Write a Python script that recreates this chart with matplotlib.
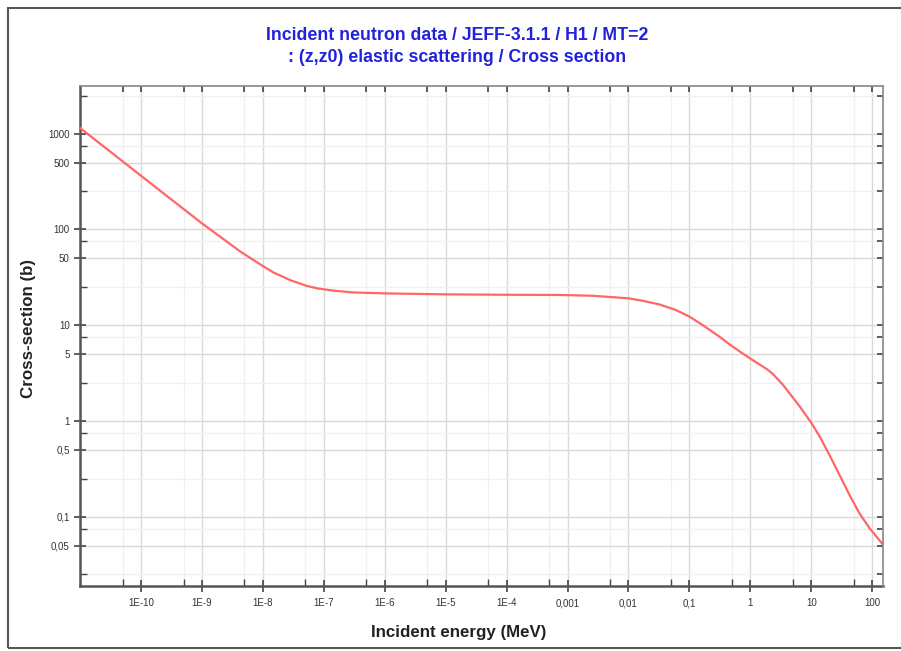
import matplotlib
matplotlib.use("Agg")
import matplotlib.pyplot as plt
from matplotlib.patches import Rectangle
from matplotlib.ticker import FixedLocator, FixedFormatter, NullFormatter

plt.rcParams['font.family'] = ['Liberation Sans', 'DejaVu Sans']

# incident energy (MeV) and elastic cross-section (b)
energy = [1e-11, 1e-10, 1e-9, 4.3e-9, 1e-8, 1.5e-8, 2.8e-8, 5.3e-8, 8e-8,
          1.5e-7, 3e-7, 1e-6, 1e-5, 1e-4, 7.3e-4, 2.6e-3, 0.01, 0.017, 0.032,
          0.06, 0.1, 0.166, 0.31, 0.45, 0.66, 0.96, 1.41, 1.9, 2.33, 3.4,
          4.38, 6.39, 9.96, 13.7, 19.9, 29.1, 42.5, 61.8, 90.3, 150]
xs = [1150, 364, 116, 58.6, 41.5, 35.5, 29.6, 25.7, 24.2,
      22.9, 22.0, 21.5, 21.0, 20.8, 20.7, 20.3, 19.1, 18.0, 16.5,
      14.4, 12.3, 10.0, 7.6, 6.35, 5.35, 4.55, 3.9, 3.45, 3.1, 2.4,
      1.95, 1.43, 0.96, 0.69, 0.44, 0.272, 0.168, 0.108, 0.076, 0.051]

x_ticks = [1e-10, 1e-9, 1e-8, 1e-7, 1e-6, 1e-5, 1e-4, 1e-3, 1e-2, 1e-1, 1, 10, 100]
x_labels = ["1E-10", "1E-9", "1E-8", "1E-7", "1E-6", "1E-5", "1E-4",
            "0,001", "0,01", "0,1", "1", "10", "100"]
x_minor = [5e-11, 5e-10, 5e-9, 5e-8, 5e-7, 5e-6, 5e-5, 5e-4, 5e-3, 5e-2, 0.5, 5, 50]
y_ticks = [0.05, 0.1, 0.5, 1, 5, 10, 50, 100, 500, 1000]
y_labels = ["0,05", "0,1", "0,5", "1", "5", "10", "50", "100", "500", "1000"]
y_minor = [0.025, 0.075, 0.25, 0.75, 2.5, 7.5, 25, 75, 250, 750, 2500]

fig = plt.figure(figsize=(9.01, 6.51), dpi=100)
ax = fig.add_axes([80/901, 1-586/651, (883-80)/901, (586-86)/651])

ax.plot(energy, xs, color='#ff6666', lw=1.6, zorder=3)
ax.set_xscale('log')
ax.set_yscale('log')
ax.set_xlim(1e-11, 150)
ax.set_ylim(0.0189, 3150)

ax.xaxis.set_major_locator(FixedLocator(x_ticks))
ax.xaxis.set_major_formatter(FixedFormatter(x_labels))
ax.xaxis.set_minor_locator(FixedLocator(x_minor))
ax.xaxis.set_minor_formatter(NullFormatter())
ax.yaxis.set_major_locator(FixedLocator(y_ticks))
ax.yaxis.set_major_formatter(FixedFormatter(y_labels))
ax.yaxis.set_minor_locator(FixedLocator(y_minor))
ax.yaxis.set_minor_formatter(NullFormatter())

ax.grid(which='major', color='#d9d9d9', lw=1.0, zorder=0)
ax.grid(which='minor', color='#f0f0f0', lw=1.0, zorder=0)
ax.set_axisbelow(True)

ax.tick_params(which='major', direction='inout', length=9, width=1.2,
               color='#444444', labelsize=7, labelcolor='#333333')
ax.tick_params(axis='x', which='major', pad=4.5)
ax.tick_params(axis='y', which='major', pad=3)
ax.tick_params(which='minor', direction='in', length=5, width=1.0, color='#444444')

# overlay axes only for the short inward ticks on the top and right edges
ov = fig.add_axes(ax.get_position(), facecolor='none', zorder=5)
ov.set_xscale('log')
ov.set_yscale('log')
ov.set_xlim(ax.get_xlim())
ov.set_ylim(ax.get_ylim())
ov.xaxis.set_major_locator(FixedLocator(x_ticks))
ov.xaxis.set_minor_locator(FixedLocator(x_minor))
ov.yaxis.set_major_locator(FixedLocator(y_ticks))
ov.yaxis.set_minor_locator(FixedLocator(y_minor))
ov.tick_params(which='both', direction='in', length=4, width=1.2, color='#444444',
               top=True, right=True, bottom=False, left=False,
               labeltop=False, labelright=False, labelbottom=False, labelleft=False)
for side in ['left', 'bottom']:
    ov.spines[side].set_visible(False)
for side in ['top', 'right']:
    ov.spines[side].set_color('#888888')
    ov.spines[side].set_linewidth(1.2)
    ax.spines[side].set_visible(False)
for side in ['left', 'bottom']:
    ax.spines[side].set_color('#555555')
    ax.spines[side].set_linewidth(1.8)

fig.text(457/901, 1-35/651, "Incident neutron data / JEFF-3.1.1 / H1 / MT=2",
         ha='center', va='center', fontsize=12.8, fontweight='bold', color='#2222dd')
fig.text(457/901, 1-57/651, ": (z,z0) elastic scattering / Cross section",
         ha='center', va='center', fontsize=12.8, fontweight='bold', color='#2222dd')
fig.text(459/901, 1-632/651, "Incident energy (MeV)", ha='center', va='center',
         fontsize=12.2, fontweight='bold', color='#222222')
fig.text(29/901, 1-328/651, "Cross-section (b)", ha='center', va='center',
         rotation=90, fontsize=12.2, fontweight='bold', color='#222222')

fig.patches.append(Rectangle((8/901, 1-648/651), 900/901, 640/651,
                             transform=fig.transFigure, fill=False,
                             edgecolor='#555555', lw=1.5))

fig.savefig("out.png", dpi=100)
